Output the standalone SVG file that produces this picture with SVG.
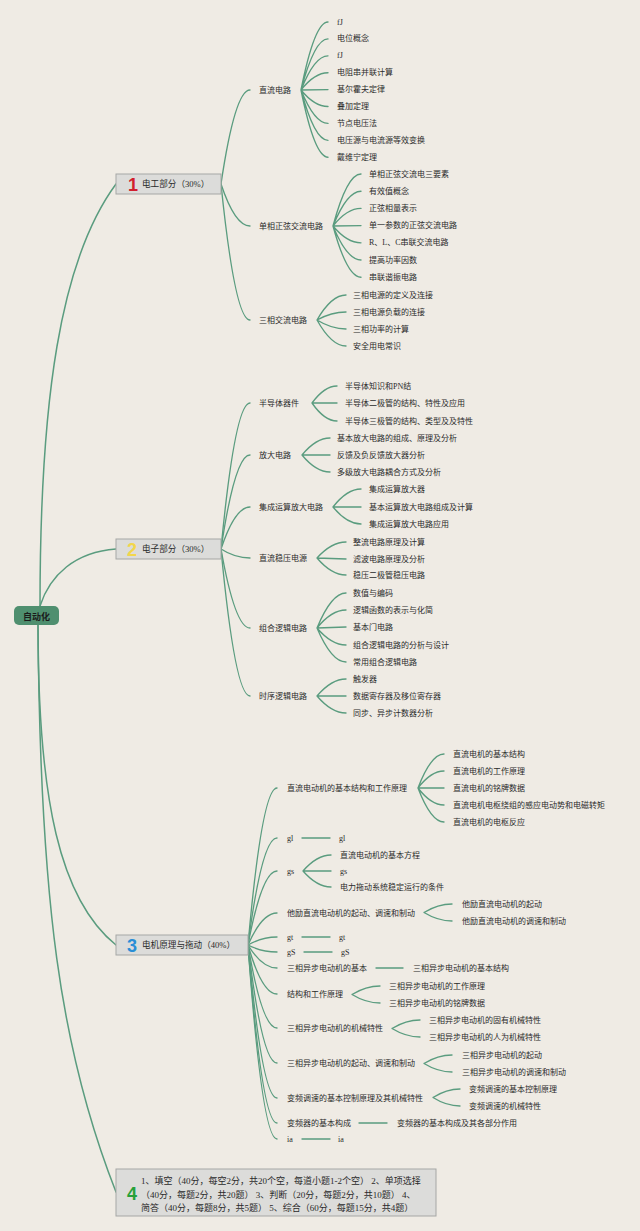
<svg xmlns="http://www.w3.org/2000/svg" width="640" height="1231" viewBox="0 0 640 1231">
<defs>
<style>
.c{fill:none;stroke:#5a9c7f;stroke-width:1.35;stroke-linecap:round}
.c1{fill:none;stroke:#5a9c7f;stroke-width:1.5;stroke-linecap:round}
.t{font-family:"Liberation Serif","Noto Sans CJK SC",serif;font-size:8px;fill:#2a2a2a;dominant-baseline:central}
.m{font-family:"Liberation Serif","Noto Sans CJK SC",serif;font-size:8.6px;fill:#2a2a2a;dominant-baseline:central}
.q{font-family:"Liberation Serif","Noto Sans CJK SC",serif;font-size:9px;fill:#2a2a2a;dominant-baseline:central}
.box{fill:#dcdcda;stroke:#a6a7a5;stroke-width:1}
.num{font-family:"Liberation Sans",sans-serif;font-weight:bold;font-size:18px;text-anchor:middle;dominant-baseline:central}
</style>
</defs>
<rect width="640" height="1231" fill="#efebe4"/>
<g id="connectors">
<path class="c1" d="M40,606 C40,400 60,260 116,184"/>
<path class="c1" d="M40,606 C50,575 75,552 116,549"/>
<path class="c1" d="M38,625 C38,800 60,900 116,945"/>
<path class="c1" d="M38,625 C40,900 60,1050 116,1192"/>
<path class="c" d="M221,184 Q235,90 250,90"/>
<path class="c" d="M221,184 Q235,226 250,226"/>
<path class="c" d="M221,184 Q235,320 250,320"/>
<path class="c" d="M221,549 Q235,403 250,403"/>
<path class="c" d="M221,549 Q235,455 250,455"/>
<path class="c" d="M221,549 Q235,507 250,507"/>
<path class="c" d="M221,549 Q235,558 250,558"/>
<path class="c" d="M221,549 Q235,628 250,628"/>
<path class="c" d="M221,549 Q235,696 250,696"/>
<path class="c" d="M248,945 Q262,788 277,788"/>
<path class="c" d="M248,945 Q262,838 277,838"/>
<path class="c" d="M248,945 Q262,871 277,871"/>
<path class="c" d="M248,945 Q262,913 277,913"/>
<path class="c" d="M248,945 Q262,937 277,937"/>
<path class="c" d="M248,945 Q262,952 277,952"/>
<path class="c" d="M248,945 Q262,968 277,968"/>
<path class="c" d="M248,945 Q262,994 277,994"/>
<path class="c" d="M248,945 Q262,1028 277,1028"/>
<path class="c" d="M248,945 Q262,1063 277,1063"/>
<path class="c" d="M248,945 Q262,1098 277,1098"/>
<path class="c" d="M248,945 Q262,1123 277,1123"/>
<path class="c" d="M248,945 Q262,1139 277,1139"/>
<path class="c" d="M301,90 Q314.5,22 328,22 M301,90 Q314.5,38.9 328,38.9 M301,90 Q314.5,55.8 328,55.8 M301,90 Q314.5,72.7 328,72.7 M301,90 L328,89.6 M301,90 Q314.5,106.5 328,106.5 M301,90 Q314.5,123.4 328,123.4 M301,90 Q314.5,140.3 328,140.3 M301,90 Q314.5,157.2 328,157.2"/>
<path class="c" d="M333,226 Q347,174 361,174 M333,226 Q347,191.2 361,191.2 M333,226 Q347,208.4 361,208.4 M333,226 L361,225.6 M333,226 Q347,242.8 361,242.8 M333,226 Q347,260 361,260 M333,226 Q347,277.2 361,277.2"/>
<path class="c" d="M317,320 Q331.5,295 346,295 M317,320 Q331.5,312 346,312 M317,320 Q331.5,329 346,329 M317,320 Q331.5,346 346,346"/>
<path class="c" d="M312,403 Q324.5,386 337,386 M312,403 L337,403 M312,403 Q324.5,421 337,421"/>
<path class="c" d="M302,455 Q316,438 330,438 M302,455 L330,455 M302,455 Q316,472 330,472"/>
<path class="c" d="M333,507 Q347,489 361,489 M333,507 L361,507 M333,507 Q347,524 361,524"/>
<path class="c" d="M317,558 Q331.5,542 346,542 M317,558 L346,559 M317,558 Q331.5,575 346,575"/>
<path class="c" d="M317,628 Q331.5,593 346,593 M317,628 Q331.5,610 346,610 M317,628 L346,627 M317,628 Q331.5,645 346,645 M317,628 Q331.5,662 346,662"/>
<path class="c" d="M317,696 Q331.5,679 346,679 M317,696 L346,696 M317,696 Q331.5,713 346,713"/>
<path class="c" d="M418,788 Q431,754 444,754 M418,788 Q431,771 444,771 M418,788 L444,788 M418,788 Q431,805 444,805 M418,788 Q431,822 444,822"/>
<path class="c" d="M302,838 L330,838"/>
<path class="c" d="M303,871 Q317,855 331,855 M303,871 L331,871 M303,871 Q317,887 331,887"/>
<path class="c" d="M424,912.5 Q438,904 452,904 M424,912.5 Q438,921 452,921"/>
<path class="c" d="M302,937 L330,937"/>
<path class="c" d="M304,952 L332,952"/>
<path class="c" d="M376,968 L403,968"/>
<path class="c" d="M352,994.5 Q366,986 380,986 M352,994.5 Q366,1003 380,1003"/>
<path class="c" d="M392,1028.5 Q406,1020 420,1020 M392,1028.5 Q406,1037 420,1037"/>
<path class="c" d="M424,1063.5 Q438,1055 452,1055 M424,1063.5 Q438,1072 452,1072"/>
<path class="c" d="M433,1097.5 Q446.5,1089 460,1089 M433,1097.5 Q446.5,1106 460,1106"/>
<path class="c" d="M359,1123 L387,1123"/>
<path class="c" d="M302,1139 L330,1139"/>
</g>
<g id="root">
<rect x="14" y="606" width="45" height="19" rx="5" fill="#4f8f6f"/>
<text x="36.5" y="616" text-anchor="middle" style="font-family:'Noto Sans CJK SC',sans-serif;font-size:9px;font-weight:bold;fill:#1b1b1b;dominant-baseline:central">自动化</text>
</g>
<g id="n1">
<rect class="box" x="116" y="174" width="105" height="20"/>
<text class="num" x="133" y="184.5" fill="#d21f2e">1</text>
<text class="m" x="142" y="184">电工部分（30%）</text>
</g>
<g id="n2">
<rect class="box" x="116" y="539" width="105" height="20"/>
<text class="num" x="132" y="549.5" fill="#f2d64b">2</text>
<text class="m" x="142" y="549">电子部分（30%）</text>
</g>
<g id="n3">
<rect class="box" x="116" y="935" width="132" height="20"/>
<text class="num" x="132" y="945.5" fill="#2a8ed6">3</text>
<text class="m" x="142" y="945">电机原理与拖动（40%）</text>
</g>
<g id="n4">
<rect class="box" x="116" y="1169" width="320" height="47"/>
<text class="num" x="132" y="1194" fill="#27a13a">4</text>
<text class="q" x="141" y="1181">1、填空（40分，每空2分，共20个空，每道小题1-2个空） 2、单项选择</text>
<text class="q" x="141" y="1194.5">（40分，每题2分，共20题） 3、判断（20分，每题2分，共10题） 4、</text>
<text class="q" x="141" y="1208">简答（40分，每题8分，共5题） 5、综合（60分，每题15分，共4题）</text>
</g>
<g id="n1-1"><text class="t" x="259" y="90">直流电路</text></g>
<g id="n1-1-1"><text class="t" x="337" y="22">fJ</text></g>
<g id="n1-1-2"><text class="t" x="337" y="38.9">电位概念</text></g>
<g id="n1-1-3"><text class="t" x="337" y="55.8">fJ</text></g>
<g id="n1-1-4"><text class="t" x="337" y="72.7">电阻串并联计算</text></g>
<g id="n1-1-5"><text class="t" x="337" y="89.6">基尔霍夫定律</text></g>
<g id="n1-1-6"><text class="t" x="337" y="106.5">叠加定理</text></g>
<g id="n1-1-7"><text class="t" x="337" y="123.4">节点电压法</text></g>
<g id="n1-1-8"><text class="t" x="337" y="140.3">电压源与电流源等效变换</text></g>
<g id="n1-1-9"><text class="t" x="337" y="157.2">戴维宁定理</text></g>
<g id="n1-2"><text class="t" x="259" y="226">单相正弦交流电路</text></g>
<g id="n1-2-1"><text class="t" x="369" y="174">单相正弦交流电三要素</text></g>
<g id="n1-2-2"><text class="t" x="369" y="191.2">有效值概念</text></g>
<g id="n1-2-3"><text class="t" x="369" y="208.4">正弦相量表示</text></g>
<g id="n1-2-4"><text class="t" x="369" y="225.6">单一参数的正弦交流电路</text></g>
<g id="n1-2-5"><text class="t" x="369" y="242.8">R、L、C串联交流电路</text></g>
<g id="n1-2-6"><text class="t" x="369" y="260">提高功率因数</text></g>
<g id="n1-2-7"><text class="t" x="369" y="277.2">串联谐振电路</text></g>
<g id="n1-3"><text class="t" x="259" y="320">三相交流电路</text></g>
<g id="n1-3-1"><text class="t" x="353" y="295">三相电源的定义及连接</text></g>
<g id="n1-3-2"><text class="t" x="353" y="312">三相电源负载的连接</text></g>
<g id="n1-3-3"><text class="t" x="353" y="329">三相功率的计算</text></g>
<g id="n1-3-4"><text class="t" x="353" y="346">安全用电常识</text></g>
<g id="n2-1"><text class="t" x="259" y="403">半导体器件</text></g>
<g id="n2-1-1"><text class="t" x="345" y="386">半导体知识和PN结</text></g>
<g id="n2-1-2"><text class="t" x="345" y="403">半导体二极管的结构、特性及应用</text></g>
<g id="n2-1-3"><text class="t" x="345" y="421">半导体三极管的结构、类型及及特性</text></g>
<g id="n2-2"><text class="t" x="259" y="455">放大电路</text></g>
<g id="n2-2-1"><text class="t" x="337" y="438">基本放大电路的组成、原理及分析</text></g>
<g id="n2-2-2"><text class="t" x="337" y="455">反馈及负反馈放大器分析</text></g>
<g id="n2-2-3"><text class="t" x="337" y="472">多级放大电路耦合方式及分析</text></g>
<g id="n2-3"><text class="t" x="259" y="507">集成运算放大电路</text></g>
<g id="n2-3-1"><text class="t" x="369" y="489">集成运算放大器</text></g>
<g id="n2-3-2"><text class="t" x="369" y="507">基本运算放大电路组成及计算</text></g>
<g id="n2-3-3"><text class="t" x="369" y="524">集成运算放大电路应用</text></g>
<g id="n2-4"><text class="t" x="259" y="558">直流稳压电源</text></g>
<g id="n2-4-1"><text class="t" x="353" y="542">整流电路原理及计算</text></g>
<g id="n2-4-2"><text class="t" x="353" y="559">滤波电路原理及分析</text></g>
<g id="n2-4-3"><text class="t" x="353" y="575">稳压二极管稳压电路</text></g>
<g id="n2-5"><text class="t" x="259" y="628">组合逻辑电路</text></g>
<g id="n2-5-1"><text class="t" x="353" y="593">数值与编码</text></g>
<g id="n2-5-2"><text class="t" x="353" y="610">逻辑函数的表示与化简</text></g>
<g id="n2-5-3"><text class="t" x="353" y="627">基本门电路</text></g>
<g id="n2-5-4"><text class="t" x="353" y="645">组合逻辑电路的分析与设计</text></g>
<g id="n2-5-5"><text class="t" x="353" y="662">常用组合逻辑电路</text></g>
<g id="n2-6"><text class="t" x="259" y="696">时序逻辑电路</text></g>
<g id="n2-6-1"><text class="t" x="353" y="679">触发器</text></g>
<g id="n2-6-2"><text class="t" x="353" y="696">数据寄存器及移位寄存器</text></g>
<g id="n2-6-3"><text class="t" x="353" y="713">同步、异步计数器分析</text></g>
<g id="n3-1"><text class="t" x="287" y="788">直流电动机的基本结构和工作原理</text></g>
<g id="n3-1-1"><text class="t" x="453" y="754">直流电机的基本结构</text></g>
<g id="n3-1-2"><text class="t" x="453" y="771">直流电机的工作原理</text></g>
<g id="n3-1-3"><text class="t" x="453" y="788">直流电机的铭牌数据</text></g>
<g id="n3-1-4"><text class="t" x="453" y="805">直流电机电枢绕组的感应电动势和电磁转矩</text></g>
<g id="n3-1-5"><text class="t" x="453" y="822">直流电机的电枢反应</text></g>
<g id="n3-2"><text class="t" x="287" y="838">gl</text></g>
<g id="n3-2-1"><text class="t" x="339" y="838">gl</text></g>
<g id="n3-3"><text class="t" x="287" y="871">gs</text></g>
<g id="n3-3-1"><text class="t" x="340" y="855">直流电动机的基本方程</text></g>
<g id="n3-3-2"><text class="t" x="340" y="871">gs</text></g>
<g id="n3-3-3"><text class="t" x="340" y="887">电力拖动系统稳定运行的条件</text></g>
<g id="n3-4"><text class="t" x="287" y="913">他励直流电动机的起动、调速和制动</text></g>
<g id="n3-4-1"><text class="t" x="462" y="904">他励直流电动机的起动</text></g>
<g id="n3-4-2"><text class="t" x="462" y="921">他励直流电动机的调速和制动</text></g>
<g id="n3-5"><text class="t" x="287" y="937">gt</text></g>
<g id="n3-5-1"><text class="t" x="339" y="937">gt</text></g>
<g id="n3-6"><text class="t" x="287" y="952">gS</text></g>
<g id="n3-6-1"><text class="t" x="341" y="952">gS</text></g>
<g id="n3-7"><text class="t" x="287" y="968">三相异步电动机的基本</text></g>
<g id="n3-7-1"><text class="t" x="413" y="968">三相异步电动机的基本结构</text></g>
<g id="n3-8"><text class="t" x="287" y="994">结构和工作原理</text></g>
<g id="n3-8-1"><text class="t" x="389" y="986">三相异步电动机的工作原理</text></g>
<g id="n3-8-2"><text class="t" x="389" y="1003">三相异步电动机的铭牌数据</text></g>
<g id="n3-9"><text class="t" x="287" y="1028">三相异步电动机的机械特性</text></g>
<g id="n3-9-1"><text class="t" x="429" y="1020">三相异步电动机的固有机械特性</text></g>
<g id="n3-9-2"><text class="t" x="429" y="1037">三相异步电动机的人为机械特性</text></g>
<g id="n3-10"><text class="t" x="287" y="1063">三相异步电动机的起动、调速和制动</text></g>
<g id="n3-10-1"><text class="t" x="462" y="1055">三相异步电动机的起动</text></g>
<g id="n3-10-2"><text class="t" x="462" y="1072">三相异步电动机的调速和制动</text></g>
<g id="n3-11"><text class="t" x="287" y="1098">变频调速的基本控制原理及其机械特性</text></g>
<g id="n3-11-1"><text class="t" x="469" y="1089">变频调速的基本控制原理</text></g>
<g id="n3-11-2"><text class="t" x="469" y="1106">变频调速的机械特性</text></g>
<g id="n3-12"><text class="t" x="287" y="1123">变频器的基本构成</text></g>
<g id="n3-12-1"><text class="t" x="397" y="1123">变频器的基本构成及其各部分作用</text></g>
<g id="n3-13"><text class="t" x="287" y="1139">ia</text></g>
<g id="n3-13-1"><text class="t" x="338" y="1139">ia</text></g>
</svg>
